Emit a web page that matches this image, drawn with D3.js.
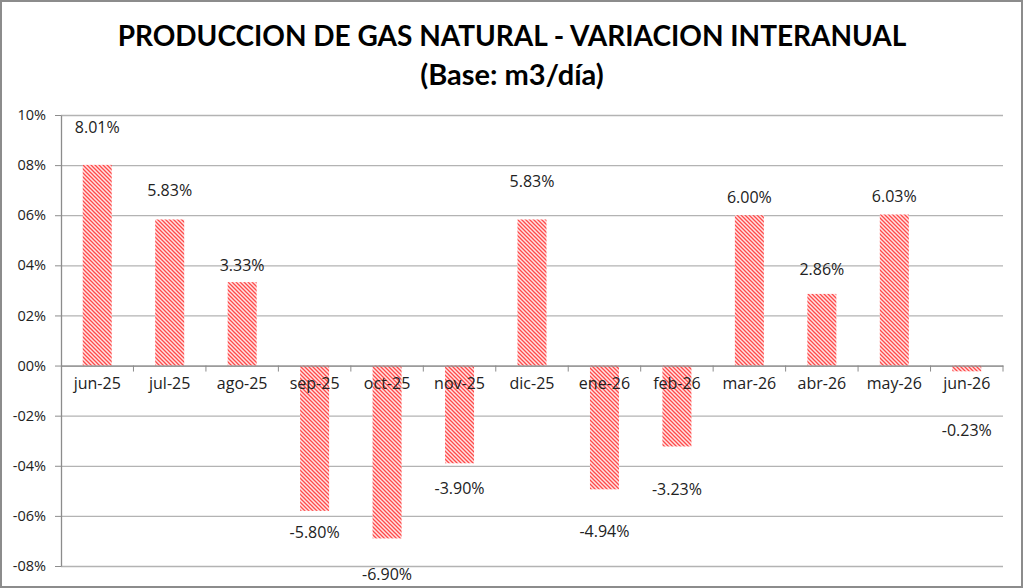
<!DOCTYPE html>
<html>
<head>
<meta charset="utf-8">
<script src="https://cdn.jsdelivr.net/npm/d3@7"></script>
<style>
  body { margin: 0; background: #fff; }
  svg { display: block; }
</style>
</head>
<body>
<div id="chart"></div>
<script>
// Data
const months = ["jun-25", "jul-25", "ago-25", "sep-25", "oct-25", "nov-25", "dic-25",
  "ene-26", "feb-26", "mar-26", "abr-26", "may-26", "jun-26"];
const variation = [8.01, 5.83, 3.33, -5.80, -6.90, -3.90, 5.83, -4.94, -3.23, 6.00, 2.86, 6.03, -0.23];
// where each value label sits (in % units, the labels were moved by hand in the original)
const labelAnchor = [9.5, 7.0, 4.0, -6.65, -8.35, -4.9, 7.35, -6.6, -4.95, 6.7, 3.85, 6.75, -2.6];
const yTicks = [-8, -6, -4, -2, 0, 2, 4, 6, 8, 10];
const yTickLabels = ["-08%", "-06%", "-04%", "-02%", "00%", "02%", "04%", "06%", "08%", "10%"];

const W = 1023, H = 588;
const margin = { top: 115, left: 61 },
  width = 1003 - margin.left,
  height = 566 - margin.top;

const svg = d3.select("#chart").append("svg")
  .attr("width", W)
  .attr("height", H);

// hatch pattern for the bars
const pat = svg.append("defs").append("pattern")
  .attr("id", "hatch")
  .attr("patternUnits", "userSpaceOnUse")
  .attr("width", 4)
  .attr("height", 4);
pat.append("rect").attr("width", 4).attr("height", 4).attr("fill", "#ffe4e4");
pat.append("path")
  .attr("d", "M-1,-1 L5,5 M-1,3 L1,5 M3,-1 L5,1")
  .attr("stroke", "#ff4a4a")
  .attr("stroke-width", 1.3);

// outer frame
svg.append("rect")
  .attr("x", 1).attr("y", 1)
  .attr("width", W - 2).attr("height", H - 2)
  .attr("fill", "white")
  .attr("stroke", "#8c8c8c")
  .attr("stroke-width", 2);

// title
const title = svg.append("text")
  .attr("text-anchor", "middle")
  .style("font-family", "Lato, 'Open Sans', sans-serif")
  .style("font-weight", "bold")
  .attr("fill", "#000");
title.append("tspan").attr("x", 512).attr("y", 46)
  .style("font-size", "28px")
  .text("PRODUCCION DE GAS NATURAL - VARIACION INTERANUAL");
title.append("tspan").attr("x", 512).attr("y", 85)
  .style("font-size", "29px")
  .text("(Base: m3/día)");

const g = svg.append("g")
  .attr("transform", `translate(${margin.left},${margin.top})`);

const x = d3.scaleBand()
  .domain(months)
  .range([0, width])
  .paddingInner(0.6)
  .paddingOuter(0.3);

const y = d3.scaleLinear()
  .domain([-8, 10])
  .range([height, 0]);

// grid lines
g.append("g")
  .attr("class", "grid")
  .call(d3.axisLeft(y)
    .tickValues(yTicks)
    .tickSize(-width)
    .tickFormat("")
  )
  .call(s => s.select(".domain").remove())
  .selectAll("line")
  .attr("stroke", "#b3b3b3")
  .attr("stroke-width", 1.3);

// bars
g.selectAll("rect.bar")
  .data(variation)
  .join("rect")
  .attr("class", "bar")
  .attr("x", (d, i) => x(months[i]))
  .attr("width", x.bandwidth())
  .attr("y", d => y(Math.max(0, d)))
  .attr("height", d => Math.abs(y(d) - y(0)))
  .attr("fill", "url(#hatch)");

// y axis
const yAxis = g.append("g")
  .call(d3.axisLeft(y)
    .tickValues(yTicks)
    .tickFormat((d, i) => yTickLabels[i])
    .tickSize(6)
    .tickSizeOuter(0)
  );
yAxis.select(".domain").attr("stroke", "#8c8c8c").attr("stroke-width", 1.3);
yAxis.selectAll(".tick line").attr("stroke", "#8c8c8c");
yAxis.selectAll("text")
  .attr("x", -15)
  .style("font-family", "'Open Sans', sans-serif")
  .style("font-size", "14.5px")
  .attr("fill", "#222");

// x axis at zero
const step = x.step();
const xAxis = g.append("g")
  .attr("transform", `translate(0,${y(0)})`)
  .call(d3.axisBottom(x).tickSize(0).tickSizeOuter(0).tickPadding(12));
xAxis.select(".domain").attr("stroke", "#8c8c8c").attr("stroke-width", 1.3);
xAxis.selectAll("text")
  .style("font-family", "'Open Sans', sans-serif")
  .style("font-size", "16px")
  .attr("fill", "#222");
// category separators below the axis
xAxis.selectAll("line.sep")
  .data(d3.range(1, months.length + 1))
  .join("line")
  .attr("class", "sep")
  .attr("x1", i => i * step)
  .attr("x2", i => i * step)
  .attr("y1", 0)
  .attr("y2", 6)
  .attr("stroke", "#8c8c8c");

// value labels
g.selectAll("text.val")
  .data(variation)
  .join("text")
  .attr("class", "val")
  .attr("x", (d, i) => x(months[i]) + x.bandwidth() / 2)
  .attr("y", (d, i) => y(labelAnchor[i]))
  .attr("dy", "0.35em")
  .attr("text-anchor", "middle")
  .style("font-family", "'Open Sans', sans-serif")
  .style("font-size", "16px")
  .attr("fill", "#222")
  .text(d => d.toFixed(2) + "%");
</script>
</body>
</html>
